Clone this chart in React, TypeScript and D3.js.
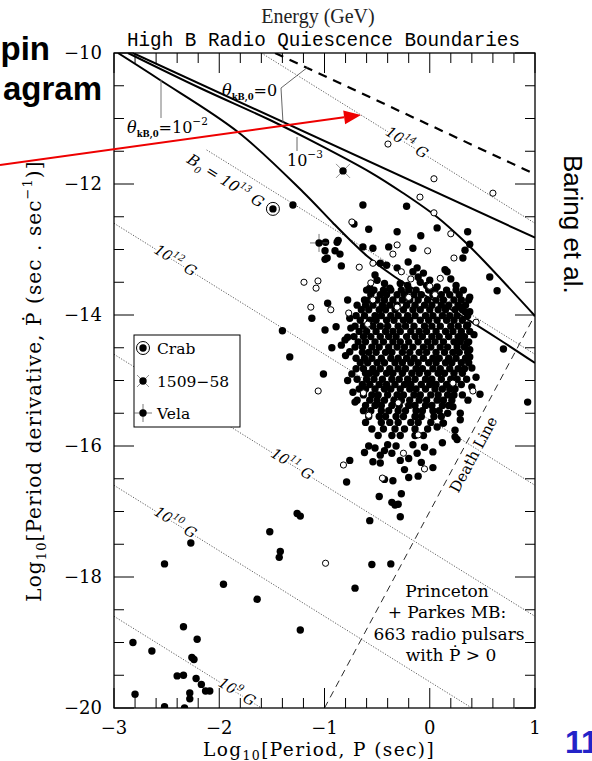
import React from "react";
import * as d3 from "d3";

const W = 592, H = 761;

// axes
const xDomain = [-3, 1];
const yDomain = [-10, -20];
const xMajorTicks = [-3, -2, -1, 0, 1];
const xTickLabels = ["−3", "−2", "−1", "0", "1"];
const yMajorTicks = [-10, -12, -14, -16, -18, -20];
const yTickLabels = ["−10", "−12", "−14", "−16", "−18", "−20"];

// constant-B lines: logPdot = sum - logP
const bLineSums = [-21.6, -19.6, -17.6, -15.6, -13.6, -11.6];
const bLineStartX = [-3, -3, -3, -3, -2.12, -1.6];
const bLabelExp = ["9", "10", "11", "12", "13", "14"];
const bLabelX = [-2.0, -2.61, -1.5, -2.61, NaN, -0.41];

// boundaries
const thetaZero: [number, number][] = [[-2.82, -10], [1, -12.82]];
const thetaE3: [number, number][] = [
  [-2.867, -10], [-2.183, -10.534], [-1.518, -11.023], [-1.043, -11.405], [-0.568, -11.817],
  [-0.254, -12.137], [0.069, -12.504], [0.316, -12.855], [0.506, -13.16], [1.0, -14.015],
];
const thetaE2: [number, number][] = [
  [-2.962, -10], [-2.563, -10.412], [-1.822, -11.206], [-1.204, -12.122], [-0.919, -12.595],
  [-0.729, -12.901], [-0.596, -13.099], [-0.33, -13.42], [0.031, -13.771], [0.192, -13.908],
  [0.667, -14.382], [1.0, -14.733],
];
const dashedTop: [number, number][] = [[-1.47, -10], [1, -11.85]];
const deathLine: [number, number][] = [[-1, -20], [1, -14]];

// special pulsars
const crab: [number, number] = [-1.49, -12.38];
const psr1509: [number, number] = [-0.824, -11.8];
const vela: [number, number] = [-1.052, -12.9];

// individually read filled pulsars
const fringeFilled: [number, number][] = [
  [-2.82, -19.0], [-2.64, -19.13], [-2.8, -19.79], [-2.52, -17.8], [-2.27, -17.48], [-1.96, -18.11],
  [-1.64, -18.34], [-1.52, -17.31], [-1.42, -17.61], [-1.43, -17.7], [-1.26, -17.03], [-1.23, -17.07],
  [-1.23, -18.81], [-2.34, -18.76], [-2.21, -18.95], [-2.26, -19.23], [-2.24, -19.26], [-2.4, -19.51],
  [-2.34, -19.5], [-2.22, -19.55], [-2.17, -19.64], [-2.13, -19.74], [-2.09, -19.74], [-2.28, -19.77],
  [-2.28, -19.86], [-2.52, -19.98], [-2.33, -20.0],
  [-0.79, -16.55], [-0.76, -16.22], [-0.55, -17.81], [-0.37, -17.8], [-0.71, -18.17], [-0.57, -17.14],
  [-0.28, -17.08], [-0.3, -16.89], [-0.33, -16.9], [-0.36, -16.86], [-0.27, -16.73], [-0.48, -16.77],
  [-0.43, -16.51], [-0.35, -16.53], [-0.2, -16.48], [-0.11, -16.46], [0.03, -16.33], [-0.24, -16.36],
  [-0.47, -16.26], [-0.54, -16.24], [-0.58, -16.0], [-0.47, -16.14], [-0.43, -16.07], [-0.36, -16.11],
  [-0.28, -16.22], [-0.2, -16.19], [-0.12, -16.11], [0.03, -16.09], [0.26, -15.9], [0.24, -15.76],
  [0.13, -15.65], [-0.52, -16.03], [-0.4, -15.98], [-0.32, -16.0], [-0.16, -15.98], [-0.05, -16.02],
  [0.12, -15.95], [-0.08, -16.25], [-0.62, -16.1],
  [-1.3, -12.32], [-1.4, -14.24], [-1.33, -14.64], [-1.01, -14.9], [-1.12, -14.05], [-0.97, -13.82],
  [-0.78, -13.77], [-0.995, -14.23], [-0.89, -14.18], [-0.84, -14.46], [-0.805, -14.38], [-0.78, -14.34],
  [-0.93, -14.5], [-0.73, -15.18], [-0.71, -15.33], [-0.99, -12.89], [-0.88, -12.89], [-0.87, -12.86],
  [-0.995, -13.02], [-0.975, -13.13], [-0.9, -13.02], [-0.853, -13.07], [-0.84, -13.25], [-0.995, -13.15],
  [-0.76, -14.05], [-0.8, -14.62], [-0.74, -14.9], [-0.78, -15.0], [-0.76, -14.56], [-0.75, -14.2],
  [-0.635, -12.32], [-0.22, -12.34], [-0.72, -12.61], [-0.58, -12.69], [-0.31, -12.73], [-0.085, -12.79],
  [0.07, -12.67], [0.36, -12.73], [0.38, -12.92], [0.335, -13.01], [0.315, -13.13], [0.57, -13.42],
  [0.64, -13.63], [0.7, -14.52], [0.93, -15.33], [-0.635, -12.96], [-0.54, -12.98], [-0.39, -12.96],
  [-0.16, -12.98], [-0.47, -13.21], [-0.41, -13.24], [-0.31, -13.28], [-0.205, -13.19], [-0.12, -13.28],
  [-0.16, -13.34], [-0.06, -13.36], [-0.11, -13.42], [0.0, -13.47], [0.145, -13.31], [-0.52, -13.39],
  [-0.5, -13.47], [0.165, -13.34], [-0.57, -13.59], [-0.55, -13.64], [-0.43, -13.52], [-0.38, -13.59],
  [-0.28, -13.52], [-0.21, -13.55], [-0.09, -13.5], [-0.03, -13.55], [0.07, -13.57], [0.2, -13.45],
  [0.25, -13.55],
  [0.38, -13.73], [0.29, -13.88], [0.335, -13.95], [0.38, -13.95], [0.36, -14.15], [0.315, -14.34],
  [0.355, -14.43], [0.38, -14.53], [0.38, -14.64], [0.4, -14.81], [0.477, -15.21], [0.363, -15.3],
  [0.29, -15.5], [0.22, -15.4], [0.17, -15.5], [0.29, -15.6], [0.126, -15.65], [0.07, -15.71],
  [0.24, -15.86], [0.42, -14.3], [0.44, -14.95], [0.4, -15.1],
];

// dense core, read row by row: [logPdot, logP values]
const coreRows: [number, number[]][] = [
  [-13.62, [-0.6, -0.53, -0.44, -0.37, -0.27, -0.2, -0.13, -0.01, 0.05, 0.16, 0.25, 0.32]],
  [-13.69, [-0.56, -0.47, -0.41, -0.31, -0.24, -0.15, -0.08, 0.03, 0.11, 0.19, 0.28]],
  [-13.77, [-0.62, -0.57, -0.5, -0.43, -0.35, -0.26, -0.19, -0.11, -0.02, 0.06, 0.13, 0.23, 0.3, 0.37]],
  [-13.85, [-0.69, -0.61, -0.54, -0.45, -0.38, -0.31, -0.22, -0.14, -0.05, 0.02, 0.11, 0.18, 0.27, 0.34]],
  [-13.92, [-0.65, -0.58, -0.48, -0.42, -0.33, -0.25, -0.16, -0.09, 0.0, 0.08, 0.15, 0.24, 0.31]],
  [-14.01, [-0.7, -0.62, -0.52, -0.46, -0.37, -0.3, -0.21, -0.14, -0.04, 0.03, 0.12, 0.19, 0.26, 0.36]],
  [-14.08, [-0.66, -0.57, -0.51, -0.41, -0.34, -0.25, -0.19, -0.09, -0.01, 0.07, 0.16, 0.23, 0.31]],
  [-14.17, [-0.71, -0.63, -0.54, -0.47, -0.4, -0.3, -0.23, -0.15, -0.05, 0.02, 0.1, 0.2, 0.27, 0.35]],
  [-14.25, [-0.67, -0.6, -0.51, -0.42, -0.35, -0.28, -0.18, -0.1, -0.03, 0.06, 0.15, 0.22, 0.3, 0.38]],
  [-14.33, [-0.72, -0.63, -0.56, -0.47, -0.39, -0.32, -0.22, -0.14, -0.07, 0.02, 0.09, 0.18, 0.27, 0.33]],
  [-14.41, [-0.68, -0.61, -0.52, -0.44, -0.35, -0.28, -0.2, -0.11, -0.02, 0.05, 0.13, 0.23, 0.29, 0.37]],
  [-14.49, [-0.71, -0.64, -0.55, -0.48, -0.39, -0.31, -0.24, -0.16, -0.06, 0.01, 0.1, 0.17, 0.26, 0.33]],
  [-14.57, [-0.64, -0.58, -0.51, -0.42, -0.36, -0.26, -0.19, -0.1, -0.03, 0.06, 0.14, 0.22, 0.28, 0.36]],
  [-14.66, [-0.7, -0.62, -0.55, -0.46, -0.37, -0.3, -0.22, -0.15, -0.06, 0.03, 0.09, 0.18, 0.25, 0.34]],
  [-14.73, [-0.66, -0.59, -0.5, -0.43, -0.33, -0.26, -0.18, -0.11, -0.01, 0.06, 0.15, 0.21, 0.3, 0.37]],
  [-14.82, [-0.7, -0.63, -0.54, -0.47, -0.38, -0.3, -0.23, -0.13, -0.07, 0.03, 0.1, 0.19, 0.27, 0.33]],
  [-14.89, [-0.61, -0.57, -0.51, -0.41, -0.35, -0.26, -0.17, -0.1, -0.02, 0.08, 0.14, 0.23, 0.31]],
  [-14.98, [-0.69, -0.6, -0.53, -0.45, -0.36, -0.29, -0.21, -0.14, -0.04, 0.02, 0.11, 0.2, 0.26, 0.35]],
  [-15.06, [-0.64, -0.57, -0.48, -0.41, -0.33, -0.24, -0.18, -0.08, 0.0, 0.06, 0.16, 0.22, 0.3]],
  [-15.13, [-0.67, -0.61, -0.52, -0.43, -0.37, -0.28, -0.19, -0.13, -0.04, 0.05, 0.12, 0.19, 0.24]],
  [-15.22, [-0.63, -0.55, -0.49, -0.4, -0.31, -0.25, -0.15, -0.09, 0.01, 0.08, 0.17, 0.23, 0.31]],
  [-15.3, [-0.69, -0.57, -0.5, -0.43, -0.34, -0.27, -0.19, -0.1, -0.03, 0.07, 0.13, 0.21]],
  [-15.38, [-0.61, -0.52, -0.46, -0.36, -0.29, -0.2, -0.14, -0.04, 0.02, 0.12, 0.18]],
  [-15.46, [-0.63, -0.56, -0.46, -0.39, -0.3, -0.23, -0.13, -0.07, 0.03, 0.09]],
  [-15.55, [-0.58, -0.48, -0.42, -0.32, -0.25, -0.14, -0.08, 0.04, 0.11]],
  [-15.64, [-0.61, -0.46, -0.38, -0.3, -0.18, -0.11, 0.01]],
  [-15.74, [-0.55, -0.44, -0.33, -0.24, -0.14, -0.02]],
  [-15.84, [-0.49, -0.36, -0.28, -0.14, -0.06]],
];

// open symbols
const openPts: [number, number][] = [
  [-0.397, -11.39], [0.04, -11.92], [0.6, -12.14], [-0.093, -12.2], [0.04, -12.44], [-0.74, -12.58],
  [0.2, -12.76], [-0.31, -12.93], [-0.02, -13.02], [-0.35, -13.07], [0.23, -13.13], [-0.67, -13.27],
  [-0.54, -13.21], [-0.27, -13.34], [-0.18, -13.45], [0.1, -13.44], [0.0, -13.56], [-0.56, -13.51],
  [-0.54, -13.77], [-0.31, -13.88], [0.05, -13.69], [-0.2, -13.73], [-1.195, -13.5], [-1.062, -13.48],
  [-1.08, -13.59], [-1.13, -13.88], [-0.94, -13.92], [-0.77, -13.97], [-0.59, -14.14], [0.44, -14.11],
  [0.22, -15.04], [0.41, -15.16], [-0.3, -15.34], [-0.63, -15.19], [-0.58, -15.53], [-0.11, -15.83],
  [-0.25, -16.11], [-0.45, -16.49], [-0.05, -16.35], [-0.82, -16.29], [-0.99, -17.79], [-1.06, -15.16],
];

const serif = "'DejaVu Serif', serif";
const mono = "'Liberation Mono', monospace";
const times = "'Liberation Serif', serif";
const sans = "'Liberation Sans', Arial, sans-serif";

export default function App() {
  const x = d3.scaleLinear().domain(xDomain).range([114, 535]);
  const y = d3.scaleLinear().domain(yDomain).range([53, 708]);
  const straight = d3.line<[number, number]>().x((d) => x(d[0])).y((d) => y(d[1]));
  const smooth = d3
    .line<[number, number]>()
    .x((d) => x(d[0]))
    .y((d) => y(d[1]))
    .curve(d3.curveCatmullRom.alpha(0.5));

  const bAngle = (Math.atan2(y(-11) - y(-10), x(1) - x(0)) * 180) / Math.PI;
  const dAngle =
    (Math.atan2(y(deathLine[1][1]) - y(deathLine[0][1]), x(deathLine[1][0]) - x(deathLine[0][0])) * 180) /
    Math.PI;

  const corePts: [number, number][] = coreRows.flatMap(([yy, xs]) => xs.map((xx) => [xx, yy] as [number, number]));
  const filled = [...fringeFilled, ...corePts];

  const xMinor = d3.range(-3, 1.0001, 0.2).filter((v) => Math.abs(v - Math.round(v)) > 1e-6);
  const yMinor = d3.range(-10, -20.0001, -0.5).filter((v) => Math.abs(v / 2 - Math.round(v / 2)) > 1e-6);

  const [X0, X1] = x.range();
  const [Y0, Y1] = y.range();
  const MAJ = 20, MIN = 10;
  const R = 3.7;

  // arrow geometry
  const arrowStart = [0, 165];
  const arrowTip = [361, 115];
  const dx = arrowTip[0] - arrowStart[0], dy = arrowTip[1] - arrowStart[1];
  const len = Math.hypot(dx, dy);
  const ux = dx / len, uy = dy / len;
  const bx = arrowTip[0] - 17 * ux, by = arrowTip[1] - 17 * uy;
  const head = `${arrowTip[0]},${arrowTip[1]} ${bx - 7 * uy},${by + 7 * ux} ${bx + 7 * uy},${by - 7 * ux}`;

  return (
    <svg width={W} height={H} style={{ position: "absolute", left: 0, top: 0, background: "#fff" }}>
      <defs>
        <clipPath id="plot">
          <rect x={X0} y={Y0} width={X1 - X0} height={Y1 - Y0} />
        </clipPath>
      </defs>
      <rect width={W} height={H} fill="#fff" />

      <g clipPath="url(#plot)">
        {bLineSums.map((s, i) => (
          <path
            key={"b" + i}
            d={straight([[bLineStartX[i], s - bLineStartX[i]], [1.2, s - 1.2]]) || ""}
            fill="none"
            stroke="#333"
            strokeWidth={0.8}
            strokeDasharray="1.2,1.6"
          />
        ))}
        <path d={straight(deathLine) || ""} fill="none" stroke="#111" strokeWidth={0.9} strokeDasharray="7,5" />
        <path d={straight(dashedTop) || ""} fill="none" stroke="#000" strokeWidth={2.2} strokeDasharray="9,7" />
        <path d={straight(thetaZero) || ""} fill="none" stroke="#000" strokeWidth={2} />
        <path d={smooth(thetaE3) || ""} fill="none" stroke="#000" strokeWidth={2} />
        <path d={smooth(thetaE2) || ""} fill="none" stroke="#000" strokeWidth={2} />
      </g>

      {/* pointer lines */}
      <polyline points="308,67 281,88 283,123" fill="none" stroke="#555" strokeWidth={0.9} />
      <line x1={161} y1={80} x2={161} y2={118} stroke="#777" strokeWidth={1} />
      <line x1={297} y1={137} x2={297} y2={151} stroke="#555" strokeWidth={0.9} />

      {/* B labels */}
      {bLineSums.map((s, i) =>
        isNaN(bLabelX[i]) ? null : (
          <text
            key={"bl" + i}
            transform={`translate(${x(bLabelX[i])},${y(s - bLabelX[i])}) rotate(${bAngle})`}
            dy={4}
            fontFamily={serif}
            fontStyle="italic"
            fontSize={14.5}
            fill="#000"
            stroke="#fff"
            strokeWidth={4}
            paintOrder="stroke"
          >
            10
            <tspan fontSize={9.5} dy={-7}>
              {bLabelExp[i]}
            </tspan>
            <tspan dy={7}> G</tspan>
          </text>
        )
      )}
      <text
        transform={`translate(186,162) rotate(${bAngle})`}
        fontFamily={serif}
        fontStyle="italic"
        fontSize={15}
        fill="#000"
      >
        B<tspan fontSize={9.5} dy={4}>0</tspan>
        <tspan dy={-4}> = 10</tspan>
        <tspan fontSize={9.5} dy={-7}>13</tspan>
        <tspan dy={7}> G</tspan>
      </text>

      {/* theta labels */}
      <text x={222} y={96} fontFamily={serif} fontSize={16} fill="#000">
        <tspan fontStyle="italic">θ</tspan>
        <tspan fontSize={8.5} fontWeight="bold" dy={4}>kB,0</tspan>
        <tspan dy={-4}>=0</tspan>
      </text>
      <text x={127} y={133} fontFamily={serif} fontSize={16} fill="#000">
        <tspan fontStyle="italic">θ</tspan>
        <tspan fontSize={8.5} fontWeight="bold" dy={4}>kB,0</tspan>
        <tspan dy={-4}>=10</tspan>
        <tspan fontSize={10.5} dy={-8}>−2</tspan>
      </text>
      <text x={287} y={166} fontFamily={serif} fontSize={16} fill="#000">
        10<tspan fontSize={10.5} dy={-8}>−3</tspan>
      </text>

      {/* Death line label */}
      <text
        transform={`translate(478,457) rotate(${dAngle})`}
        textAnchor="middle"
        fontFamily={serif}
        fontSize={15}
        fill="#000"
      >
        Death Line
      </text>

      {/* pulsars */}
      <g clipPath="url(#plot)">
        {filled.map((d, i) => (
          <circle key={"f" + i} cx={x(d[0])} cy={y(d[1])} r={R} fill="#000" />
        ))}
        {openPts.map((d, i) => (
          <circle key={"o" + i} cx={x(d[0])} cy={y(d[1])} r={3.1} fill="#fff" stroke="#000" strokeWidth={1} />
        ))}
        <circle cx={x(crab[0])} cy={y(crab[1])} r={6.5} fill="#fff" stroke="#000" strokeWidth={1} />
        <circle cx={x(crab[0])} cy={y(crab[1])} r={R} fill="#000" />
        <g transform={`translate(${x(psr1509[0])},${y(psr1509[1])})`}>
          <line x1={-7} y1={-7} x2={7} y2={7} stroke="#777" strokeWidth={0.8} />
          <line x1={-7} y1={7} x2={7} y2={-7} stroke="#777" strokeWidth={0.8} />
          <circle r={R} fill="#000" />
        </g>
        <g transform={`translate(${x(vela[0])},${y(vela[1])})`}>
          <line x1={-9} y1={0} x2={9} y2={0} stroke="#555" strokeWidth={0.8} />
          <line x1={0} y1={-9} x2={0} y2={9} stroke="#555" strokeWidth={0.8} />
          <circle r={R} fill="#000" />
        </g>
      </g>

      {/* legend */}
      <rect x={134} y={335} width={106} height={92} fill="#fff" stroke="#000" strokeWidth={1} />
      <circle cx={143} cy={348} r={6.5} fill="#fff" stroke="#000" strokeWidth={1} />
      <circle cx={143} cy={348} r={R} fill="#000" />
      <text x={157} y={354} fontFamily={serif} fontSize={15.5} fill="#000">Crab</text>
      <g transform="translate(143,381)">
        <line x1={-6} y1={-6} x2={6} y2={6} stroke="#777" strokeWidth={0.8} />
        <line x1={-6} y1={6} x2={6} y2={-6} stroke="#777" strokeWidth={0.8} />
        <circle r={R} fill="#000" />
      </g>
      <text x={157} y={387} fontFamily={serif} fontSize={15.5} fill="#000">1509−58</text>
      <g transform="translate(143,413)">
        <line x1={-9} y1={0} x2={9} y2={0} stroke="#555" strokeWidth={0.8} />
        <line x1={0} y1={-9} x2={0} y2={9} stroke="#555" strokeWidth={0.8} />
        <circle r={R} fill="#000" />
      </g>
      <text x={157} y={419} fontFamily={serif} fontSize={15.5} fill="#000">Vela</text>

      {/* survey note */}
      <g fontFamily={serif} fontSize={17} fill="#000" textAnchor="middle">
        <text x={447} y={597}>Princeton</text>
        <text x={447} y={618}>+ Parkes MB:</text>
        <text x={449} y={640}>663 radio pulsars</text>
        <text x={451} y={661}>with Ṗ &gt; 0</text>
      </g>

      {/* frame */}
      <rect x={X0} y={Y0} width={X1 - X0} height={Y1 - Y0} fill="none" stroke="#000" strokeWidth={1.3} />
      {xMajorTicks.map((v, i) => (
        <g key={"xm" + i}>
          <line x1={x(v)} x2={x(v)} y1={Y1} y2={Y1 - MAJ} stroke="#000" strokeWidth={1} />
          <line x1={x(v)} x2={x(v)} y1={Y0} y2={Y0 + MAJ} stroke="#000" strokeWidth={1} />
          <text x={x(v)} y={734} textAnchor="middle" fontFamily={serif} fontSize={18} fill="#000">
            {xTickLabels[i]}
          </text>
        </g>
      ))}
      {xMinor.map((v, i) => (
        <g key={"xn" + i}>
          <line x1={x(v)} x2={x(v)} y1={Y1} y2={Y1 - MIN} stroke="#000" strokeWidth={1} />
          <line x1={x(v)} x2={x(v)} y1={Y0} y2={Y0 + MIN} stroke="#000" strokeWidth={1} />
        </g>
      ))}
      {yMajorTicks.map((v, i) => (
        <g key={"ym" + i}>
          <line x1={X0} x2={X0 + MAJ} y1={y(v)} y2={y(v)} stroke="#000" strokeWidth={1} />
          <line x1={X1} x2={X1 - MAJ} y1={y(v)} y2={y(v)} stroke="#000" strokeWidth={1} />
          <text x={102} y={y(v)} dy="0.36em" textAnchor="end" fontFamily={serif} fontSize={18} fill="#000">
            {yTickLabels[i]}
          </text>
        </g>
      ))}
      {yMinor.map((v, i) => (
        <g key={"yn" + i}>
          <line x1={X0} x2={X0 + MIN} y1={y(v)} y2={y(v)} stroke="#000" strokeWidth={1} />
          <line x1={X1} x2={X1 - MIN} y1={y(v)} y2={y(v)} stroke="#000" strokeWidth={1} />
        </g>
      ))}

      {/* axis titles */}
      <text x={203} y={756} fontFamily={serif} fontSize={18.5} letterSpacing={1.4} fill="#000">
        Log<tspan fontSize={12.5} dy={4}>10</tspan>
        <tspan dy={-4}>[Period, P (sec)]</tspan>
      </text>
      <text
        transform="translate(41,381) rotate(-90)"
        textAnchor="middle"
        fontFamily={serif}
        fontSize={20}
        letterSpacing={1.1}
        fill="#000"
      >
        Log<tspan fontSize={13} dy={5}>10</tspan>
        <tspan dy={-5}>[Period derivative, Ṗ (sec . sec</tspan>
        <tspan fontSize={13} dy={-9}>−1</tspan>
        <tspan dy={9}>)]</tspan>
      </text>
      <text x={127} y={46} fontFamily={mono} fontSize={19.3} textLength={393} lengthAdjust="spacing" fill="#000">
        High B Radio Quiescence Boundaries
      </text>
      <text x={318} y={23} textAnchor="middle" fontFamily={times} fontSize={20} fill="#222">
        Energy (GeV)
      </text>

      {/* slide overlay */}
      <text x={50} y={60} textAnchor="end" fontFamily={sans} fontWeight="bold" fontSize={33} fill="#000">
        pin
      </text>
      <text x={102} y={100} textAnchor="end" fontFamily={sans} fontWeight="bold" fontSize={33} fill="#000">
        agram
      </text>
      <line x1={arrowStart[0]} y1={arrowStart[1]} x2={bx} y2={by} stroke="#ee0000" strokeWidth={2} />
      <polygon points={head} fill="#ee0000" />
      <text transform="translate(564,155) rotate(90)" fontFamily={sans} fontSize={26} fill="#000">
        Baring et al.
      </text>
      <text x={565} y={753} fontFamily={sans} fontWeight="bold" fontSize={32} fill="#2323c8">
        11
      </text>
    </svg>
  );
}
